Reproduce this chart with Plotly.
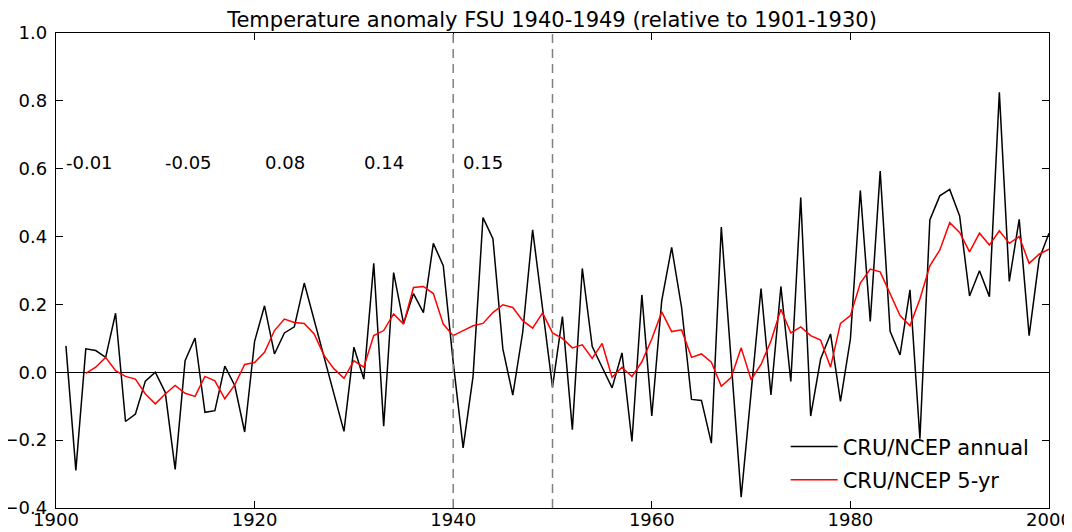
import plotly.graph_objects as go

# ---- data ----
years_annual = list(range(1901, 2001))
annual = [
    0.078, -0.289, 0.069, 0.064, 0.044, 0.174, -0.145, -0.123, -0.026, 0.000,
    -0.059, -0.286, 0.034, 0.101, -0.118, -0.113, 0.018, -0.039, -0.176, 0.091,
    0.196, 0.054, 0.116, 0.134, 0.263, 0.154, 0.044, -0.065, -0.174, 0.074,
    -0.020, 0.321, -0.159, 0.294, 0.144, 0.232, 0.176, 0.380, 0.314, 0.030,
    -0.223, -0.012, 0.456, 0.394, 0.069, -0.067, 0.118, 0.420, 0.184, -0.044,
    0.164, -0.169, 0.306, 0.076, 0.015, -0.046, 0.057, -0.204, 0.228, -0.129,
    0.211, 0.368, 0.191, -0.080, -0.083, -0.209, 0.428, 0.024, -0.368, -0.060,
    0.247, -0.067, 0.253, -0.027, 0.515, -0.129, 0.039, 0.113, -0.086, 0.098,
    0.536, 0.150, 0.593, 0.121, 0.051, 0.243, -0.196, 0.449, 0.520, 0.539,
    0.461, 0.225, 0.299, 0.223, 0.825, 0.268, 0.451, 0.108, 0.333, 0.410,
]
years_5yr = list(range(1903, 2001))
smooth_5yr = [
    -0.003, 0.015, 0.044, 0.005, -0.012, -0.020, -0.064, -0.093,
    -0.064, -0.039, -0.062, -0.071, -0.012, -0.025, -0.078, -0.037, 0.023, 0.029,
    0.059, 0.123, 0.157, 0.147, 0.144, 0.113, 0.049, 0.010, -0.018, 0.034,
    0.015, 0.108, 0.123, 0.172, 0.142, 0.250, 0.253, 0.232, 0.142, 0.108,
    0.123, 0.137, 0.144, 0.176, 0.199, 0.191, 0.152, 0.130, 0.175, 0.116,
    0.100, 0.072, 0.081, 0.041, 0.085, -0.015, 0.015, -0.013, 0.031, 0.098,
    0.178, 0.120, 0.125, 0.044, 0.054, 0.030, -0.041, -0.015, 0.072, -0.022,
    0.023, 0.092, 0.186, 0.116, 0.134, 0.108, 0.095, 0.015, 0.144, 0.167,
    0.263, 0.304, 0.296, 0.230, 0.167, 0.137, 0.216, 0.314, 0.360, 0.441,
    0.412, 0.355, 0.410, 0.375, 0.417, 0.380, 0.400, 0.321, 0.348, 0.363,
]
decade_x = [1901, 1911, 1921, 1931, 1941]
decade_labels = ["-0.01", "-0.05", "0.08", "0.14", "0.15"]
decade_label_y = 0.618
period_lines = [1940, 1950]
x_ticks = [1900, 1920, 1940, 1960, 1980, 2000]
y_ticks = [-0.4, -0.2, 0.0, 0.2, 0.4, 0.6, 0.8, 1.0]

FONT = "DejaVu Sans"

fig = go.Figure()
fig.add_trace(go.Scatter(x=years_annual, y=annual, mode="lines",
                         name="CRU/NCEP annual", legendgroup="a",
                         line=dict(color="black", width=1.5)))
fig.add_trace(go.Scatter(x=years_5yr, y=smooth_5yr, mode="lines",
                         name="CRU/NCEP 5-yr", legendgroup="b",
                         line=dict(color="#ff0000", width=1.5)))

for xv in period_lines:
    fig.add_shape(type="line", xref="x", yref="paper", x0=xv, x1=xv, y0=0, y1=1,
                  line=dict(color="#808080", width=1.5, dash="9px,6px"))

for xv, lab in zip(decade_x, decade_labels):
    fig.add_annotation(x=xv, y=decade_label_y, text=lab, showarrow=False,
                       xanchor="left", yanchor="middle", xshift=-2,
                       font=dict(family=FONT, size=18, color="black"))

# page body adds an 8px offset; margins compensate so the plot area lands at
# x 56..1049, y 33..508 in the window
fig.update_layout(
    width=1072, height=532,
    margin=dict(l=48, r=31, t=25, b=32),
    paper_bgcolor="white", plot_bgcolor="white",
    font=dict(family=FONT, size=18, color="black"),
    title=dict(text="Temperature anomaly FSU 1940-1949 (relative to 1901-1930)",
               x=0.5075, xanchor="center", y=0.979, yanchor="middle",
               font=dict(family=FONT, size=21, color="black")),
    showlegend=True,
    legend=dict(x=0.7348, xanchor="left", y=0.016, yanchor="bottom",
                bgcolor="rgba(0,0,0,0)", borderwidth=0,
                font=dict(family=FONT, size=21, color="black"),
                itemwidth=47, tracegroupgap=3, traceorder="grouped"),
)
fig.update_xaxes(range=[1900, 2000], tickvals=x_ticks, ticks="inside", ticklen=7,
                 tickwidth=1.3, tickcolor="black", showline=True, linecolor="black",
                 linewidth=1.3, mirror="ticks", showgrid=False, zeroline=False,
                 automargin=False, ticklabelstandoff=-5,
                 tickfont=dict(family=FONT, size=18))
fig.update_yaxes(range=[-0.4, 1.0], tickvals=y_ticks, tickformat=".1f",
                 ticks="inside", ticklen=7, tickwidth=1.3, tickcolor="black",
                 showline=True, linecolor="black", linewidth=1.3, mirror="ticks",
                 showgrid=False, zeroline=True, zerolinecolor="black",
                 zerolinewidth=1.4, automargin=False, ticklabelstandoff=4,
                 tickfont=dict(family=FONT, size=18))

fig.write_html("out.html")
